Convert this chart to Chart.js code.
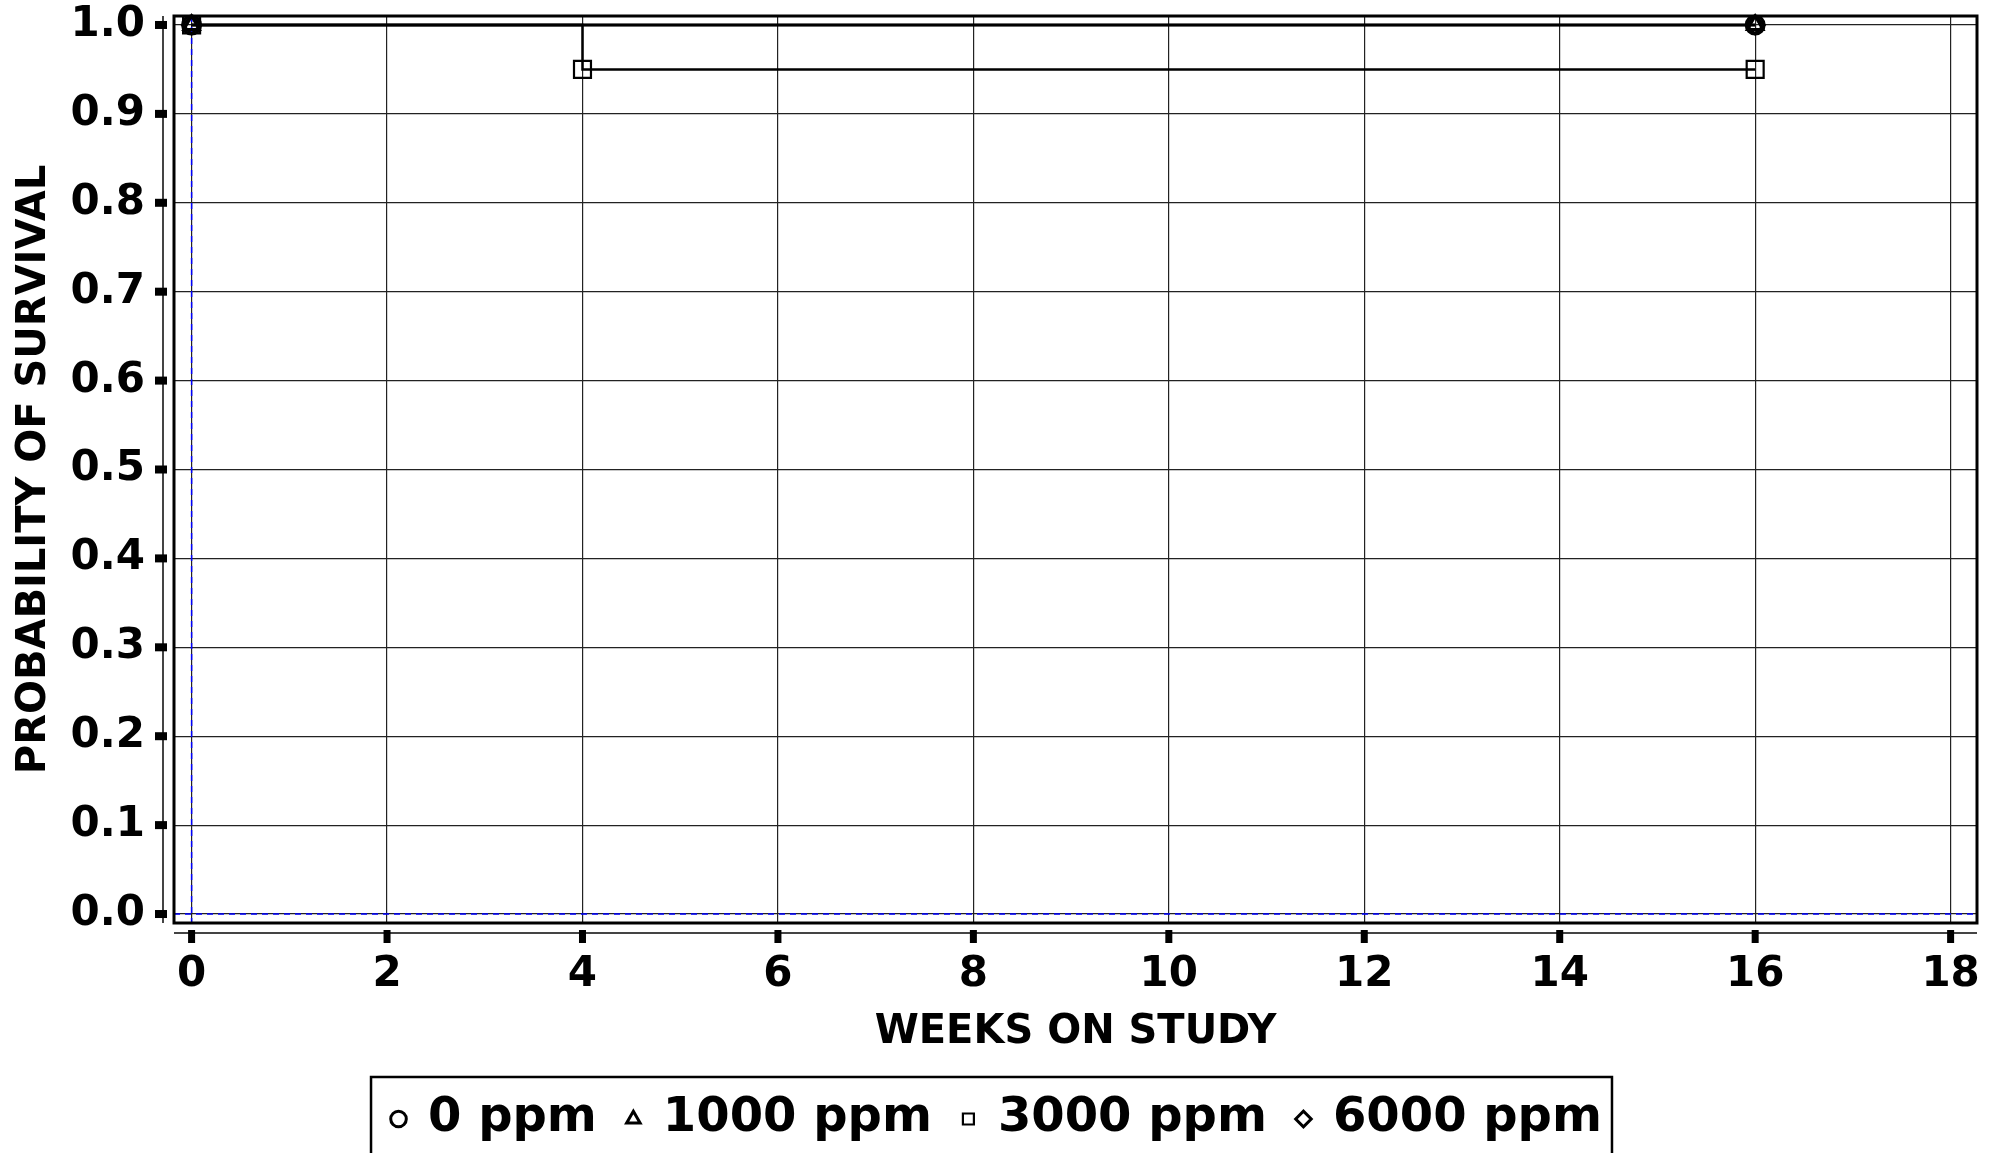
<!DOCTYPE html>
<html>
<head>
<meta charset="utf-8">
<script src="https://cdn.jsdelivr.net/npm/chart.js@4"></script>
<style>
  html, body { margin: 0; padding: 0; background: #fff; }
</style>
</head>
<body>
<canvas id="chart" width="2002" height="1153"></canvas>
<script>
// tick labels
const weekTicks = [0, 2, 4, 6, 8, 10, 12, 14, 16, 18];
const probTicks = [0, 0.1, 0.2, 0.3, 0.4, 0.5, 0.6, 0.7, 0.8, 0.9, 1.0];

// survival curves (Kaplan-Meier steps)
const groups = ['0 ppm', '1000 ppm', '3000 ppm', '6000 ppm'];
const markers = ['circle', 'triangle', 'rect', 'rectRot'];
const weeks0 = [0, 16];
const surv0 = [1.0, 1.0];
const weeks1000 = [0, 16];
const surv1000 = [1.0, 1.0];
const weeks3000 = [0, 4, 16];
const surv3000 = [1.0, 0.95, 0.95];
const weeks6000 = [0, 16];
const surv6000 = [1.0, 1.0];

const FONT = "'DejaVu Sans', sans-serif";
const LEGEND_SHIFT = 9;
const toXY = (xs, ys) => xs.map((x, i) => ({ x: x, y: ys[i] }));

function curve(i, xs, ys) {
  const sq = markers[i] === 'rect';
  return {
    label: groups[i],
    data: toXY(xs, ys),
    stepped: true,
    borderColor: '#000',
    borderWidth: 2.5,
    pointStyle: markers[i],
    pointRadius: sq ? 12 : 9,
    pointBorderColor: '#000',
    pointBackgroundColor: 'rgba(0,0,0,0)',
    pointBorderWidth: sq ? 2.2 : 3,
    clip: false
  };
}

const refLines = {
  id: 'refLines',
  afterLayout(chart) {
    // nudge legend a bit right so it sits like the original
    const lg = chart.legend;
    lg.left += LEGEND_SHIFT;
    lg.right += LEGEND_SHIFT;
    (lg.legendHitBoxes || []).forEach(h => { h.left += LEGEND_SHIFT; });
  },
  beforeDatasetsDraw(chart) {
    const { ctx, chartArea: a, scales: { x, y } } = chart;
    ctx.save();
    ctx.strokeStyle = '#0000ff';
    ctx.lineWidth = 1.5;
    ctx.setLineDash([6, 5]);
    const x0 = x.getPixelForValue(0);
    const y0 = y.getPixelForValue(0);
    ctx.beginPath();
    ctx.moveTo(x0, a.top); ctx.lineTo(x0, a.bottom);
    ctx.moveTo(a.left, y0); ctx.lineTo(a.right, y0);
    ctx.stroke();
    ctx.restore();
  },
  afterDraw(chart) {
    const { ctx, chartArea: a, scales: { x, y } } = chart;
    ctx.save();
    // frame
    ctx.strokeStyle = '#000';
    ctx.lineWidth = 3;
    ctx.strokeRect(a.left, a.top, a.right - a.left, a.bottom - a.top);
    // detached axis lines
    ctx.strokeStyle = '#444';
    ctx.lineWidth = 2;
    ctx.beginPath();
    ctx.moveTo(a.left - 11, a.top); ctx.lineTo(a.left - 11, a.bottom);
    ctx.moveTo(a.left, a.bottom + 10); ctx.lineTo(a.right, a.bottom + 10);
    ctx.stroke();
    ctx.fillStyle = '#000';
    probTicks.forEach(v => {
      const py = y.getPixelForValue(v);
      ctx.fillRect(a.left - 19, py - 4, 12, 8);
    });
    weekTicks.forEach(v => {
      const px = x.getPixelForValue(v);
      ctx.fillRect(px - 3.5, a.bottom + 7, 7, 13);
    });
    // legend border
    const hb = chart.legend.legendHitBoxes;
    if (hb && hb.length) {
      const first = hb[0], last = hb[hb.length - 1];
      const cy = first.top + first.height / 2;
      const l = first.left - 22, r = last.left + last.width + 10;
      ctx.strokeStyle = '#000';
      ctx.lineWidth = 2.5;
      ctx.strokeRect(l, cy - 42, r - l, 80);
    }
    ctx.restore();
  }
};

new Chart(document.getElementById('chart'), {
  type: 'line',
  data: {
    datasets: [
      curve(0, weeks0, surv0),
      curve(1, weeks1000, surv1000),
      curve(2, weeks3000, surv3000),
      curve(3, weeks6000, surv6000)
    ]
  },
  options: {
    responsive: false,
    animation: false,
    devicePixelRatio: 1,
    layout: { padding: { top: 16, right: 25, left: 0, bottom: 0 } },
    scales: {
      x: {
        type: 'linear',
        min: -0.18,
        max: 18.27,
        afterBuildTicks: s => { s.ticks = weekTicks.map(v => ({ value: v })); },
        afterFit: s => {
          s.height = s.chart.height - 923 - s.chart.legend.height;
          s.paddingLeft = 0; s.paddingRight = 0;
        },
        ticks: {
          autoSkip: false, maxRotation: 0, padding: 27, color: '#000',
          font: { family: FONT, size: 42, weight: 'bold' },
          callback: v => String(v)
        },
        grid: { color: '#222', lineWidth: 1.2, drawTicks: false },
        border: { display: false },
        title: {
          display: true, text: 'WEEKS ON STUDY', color: '#000',
          font: { family: FONT, size: 40, weight: 'bold' },
          padding: { top: 0, bottom: 7 }
        }
      },
      y: {
        min: -0.0101,
        max: 1.0101,
        afterBuildTicks: s => { s.ticks = probTicks.map(v => ({ value: v })); },
        afterFit: s => {
          s.width = 174;
          s.paddingTop = 0; s.paddingBottom = 0;
        },
        ticks: {
          autoSkip: false, padding: 29, color: '#000',
          font: { family: FONT, size: 42, weight: 'bold' },
          callback: v => v.toFixed(1)
        },
        grid: { color: '#222', lineWidth: 1.2, drawTicks: false },
        border: { display: false },
        title: {
          display: true, text: 'PROBABILITY OF SURVIVAL', color: '#000',
          font: { family: FONT, size: 40, weight: 'bold' },
          padding: { top: 11, bottom: 0 }
        }
      }
    },
    plugins: {
      tooltip: { enabled: false },
      legend: {
        position: 'bottom',
        labels: {
          usePointStyle: true, boxWidth: 11, boxHeight: 11, padding: 31,
          color: '#000',
          font: { family: FONT, size: 48, weight: 'bold' }
        }
      }
    }
  },
  plugins: [refLines]
});
</script>
</body>
</html>
